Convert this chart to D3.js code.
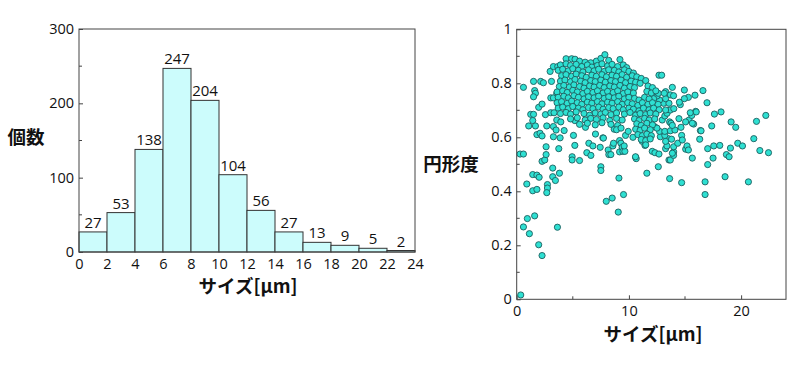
<!DOCTYPE html>
<html>
<head>
<meta charset="utf-8">
<script src="https://cdn.jsdelivr.net/npm/d3@7"></script>
<style>
  body { margin: 0; background: #fff; }
  svg { display: block; }
  .tick text { font-family: 'Open Sans', 'Noto Sans', sans-serif; font-size: 14.5px; fill: #111; }
  .title { font-family: 'Noto Sans CJK JP', sans-serif; font-weight: 700; font-size: 18.5px; fill: #111; }
</style>
</head>
<body>
<svg id="chart" width="800" height="392"></svg>
<script>
// histogram: bins of 2 um, counts printed above each bar
const binStarts = [0, 2, 4, 6, 8, 10, 12, 14, 16, 18, 20, 22];
const binWidth = 2;
const counts = [27, 53, 138, 247, 204, 104, 56, 27, 13, 9, 5, 2];
const histXTicks = [0, 2, 4, 6, 8, 10, 12, 14, 16, 18, 20, 22, 24];
const histYTicks = [0, 100, 200, 300];
const histYMinor = [50, 150, 250];

// scatter: size [um] vs circularity
const scatterXTicks = [0, 10, 20];
const scatterXMinor = [5, 15];
const scatterYTicks = [0, 0.2, 0.4, 0.6, 0.8, 1];
const scatterYMinor = [0.1, 0.3, 0.5, 0.7, 0.9];

const sparsePoints = [
  [0.36,0.016],[0.3,0.538],[0.6,0.538],[0.6,0.785],[0.9,0.427],[0.6,0.268],[0.95,0.299],[1.13,0.243],[1.07,0.642],
  [1.5,0.807],[1.6,0.773],[1.67,0.763],[1.5,0.75],[1.25,0.685],[1.5,0.685],[1.43,0.662],[1.67,0.642],[1.8,0.61],
  [1.43,0.462],[1.8,0.46],[2.0,0.452],[1.43,0.402],[1.8,0.407],[1.6,0.309],[1.96,0.202],[2.26,0.162],
  [2.14,0.807],[2.38,0.802],[1.96,0.711],[2.26,0.723],[2.08,0.615],[2.26,0.605],[2.26,0.511],[2.5,0.516],
  [2.62,0.565],[2.62,0.536],[2.68,0.642],[2.56,0.684],[2.74,0.425],[2.74,0.412],[2.68,0.395],
  [2.98,0.844],[3.1,0.807],[3.04,0.746],[3.27,0.746],[3.04,0.691],[3.33,0.691],[3.27,0.64],[3.27,0.602],
  [3.51,0.627],[3.57,0.664],[3.21,0.486],[3.21,0.454],[3.45,0.44],[3.63,0.267],[3.75,0.558],[3.81,0.467],
  [3.87,0.598],[3.93,0.657],[4.23,0.625],[3.27,0.862],[3.66,0.862],[3.57,0.763],
  [5.06,0.607],[4.94,0.528],[4.94,0.516],[5.18,0.57],[5.18,0.662],[5.6,0.514],[6.13,0.637],[6.25,0.543],
  [6.43,0.578],[6.61,0.533],[6.79,0.568],[7.02,0.612],[7.44,0.563],[7.5,0.491],[7.5,0.477],[7.68,0.598],
  [7.98,0.363],[8.15,0.553],[8.21,0.536],[8.51,0.375],[8.57,0.568],[8.63,0.578],[8.69,0.63],[9.05,0.323],
  [9.11,0.449],[9.17,0.546],[9.17,0.588],[9.29,0.578],[9.4,0.563],[9.46,0.548],[9.52,0.388],[9.64,0.548],
  [9.7,0.607],[9.94,0.622],[10.36,0.6],[10.6,0.526],[10.65,0.521],[11.0,0.627],[11.19,0.585],[11.43,0.57],
  [11.6,0.467],[12.08,0.548],[12.32,0.543],[12.62,0.491],[12.68,0.538],[12.68,0.83],[12.92,0.83],
  [13.27,0.558],[13.39,0.568],[13.51,0.595],[13.57,0.516],[13.63,0.447],[13.63,0.657],[13.99,0.546],
  [13.99,0.565],[14.35,0.578],[14.46,0.669],[14.58,0.721],[14.64,0.637],[14.7,0.432],[14.7,0.607],
  [14.94,0.775],[15.06,0.556],[15.18,0.568],[15.3,0.553],[15.3,0.748],[15.36,0.664],[15.6,0.681],
  [15.65,0.523],[15.77,0.649],[15.89,0.756],[15.95,0.696],[16.31,0.593],[16.37,0.625],[16.6,0.773],
  [16.79,0.435],[16.79,0.388],[16.96,0.728],[17.02,0.558],[17.02,0.499],[17.38,0.642],[17.5,0.523],
  [17.56,0.568],[17.62,0.686],[18.1,0.57],[18.21,0.694],[18.57,0.454],[18.69,0.536],[18.93,0.528],
  [19.05,0.56],[19.11,0.657],[19.52,0.637],[19.7,0.578],[20.12,0.568],[20.65,0.435],[21.13,0.595],
  [21.37,0.659],[21.67,0.551],[22.2,0.681],[22.44,0.543],
  [14.5,0.73],[13.87,0.785],[13.27,0.769],[13.69,0.757],[13.98,0.754],[14.94,0.743],[15.47,0.691],
  [16.0,0.694],[15.05,0.657],[15.65,0.652],[16.43,0.624],[14.76,0.59],[13.69,0.516],[13.98,0.533],
  [13.87,0.541],[13.27,0.585],[13.8,0.593],[12.8,0.602],[13.2,0.607],[12.73,0.622],[13.2,0.622],
  [13.69,0.624],[14.1,0.627],[13.75,0.652],[13.87,0.644],[12.3,0.639],[12.5,0.634],[12.97,0.664],
  [13.2,0.679],[13.4,0.689],[13.69,0.701],[13.27,0.701],[13.09,0.726],[13.57,0.726],[13.27,0.743],
  [12.73,0.738],[12.5,0.753],[12.2,0.743],[12.62,0.763],[13.15,0.763],
  [7.73,0.597],[8.39,0.536],[9.58,0.568],[10.59,0.528]
];

// the dense blob between 4 and 12 um, typed row by row
const clusterPoints = [
  [4.4,0.891],[4.9,0.891],[5.2,0.889],[5.6,0.882],[6.1,0.878],[6.6,0.876],[7.1,0.882],[7.5,0.892],[7.86,0.906],[8.2,0.885],[9.2,0.888],
  [3.9,0.868],[4.4,0.872],[4.8,0.866],[5.3,0.870],[5.8,0.862],[6.3,0.868],[6.7,0.860],[7.2,0.866],[7.6,0.872],[8.1,0.864],[8.5,0.870],[9.0,0.862],[9.5,0.868],[9.8,0.858],
  [3.7,0.848],[4.1,0.852],[4.6,0.846],[5.0,0.854],[5.5,0.848],[5.9,0.842],[6.4,0.850],[6.9,0.846],[7.3,0.852],[7.8,0.844],[8.2,0.850],[8.7,0.848],[9.1,0.842],[9.6,0.850],[10.0,0.844],[10.4,0.838],
  [4.0,0.828],[4.4,0.832],[4.9,0.826],[5.3,0.834],[5.8,0.828],[6.2,0.822],[6.7,0.830],[7.1,0.826],[7.6,0.832],[8.0,0.824],[8.5,0.830],[8.9,0.826],[9.4,0.832],[9.8,0.822],[10.3,0.828],[10.7,0.824],[11.1,0.818],
  [3.9,0.808],[4.3,0.812],[4.8,0.806],[5.2,0.814],[5.7,0.808],[6.1,0.802],[6.6,0.810],[7.0,0.806],[7.5,0.812],[7.9,0.804],[8.4,0.810],[8.8,0.806],[9.3,0.812],[9.7,0.802],[10.2,0.808],[10.6,0.804],[11.0,0.800],[11.5,0.810],
  [3.8,0.788],[4.2,0.792],[4.7,0.786],[5.1,0.794],[5.6,0.788],[6.0,0.782],[6.5,0.790],[6.9,0.786],[7.4,0.792],[7.8,0.784],[8.3,0.790],[8.7,0.786],[9.2,0.792],[9.6,0.782],[10.1,0.788],[10.5,0.784],[11.7,0.790],[12.1,0.784],
  [3.6,0.768],[4.1,0.772],[4.5,0.766],[5.0,0.774],[5.4,0.768],[5.9,0.762],[6.3,0.770],[6.8,0.766],[7.2,0.772],[7.7,0.764],[8.1,0.770],[8.6,0.766],[9.0,0.772],[9.5,0.762],[9.9,0.768],[10.4,0.764],[11.6,0.770],[12.0,0.764],[12.4,0.772],
  [3.7,0.748],[4.2,0.752],[4.6,0.746],[5.1,0.754],[5.5,0.748],[6.0,0.742],[6.4,0.750],[6.9,0.746],[7.3,0.752],[7.8,0.744],[8.2,0.750],[8.7,0.746],[9.1,0.752],[9.6,0.742],[10.0,0.748],[10.5,0.744],[10.9,0.738],[11.4,0.748],[11.8,0.742],
  [3.6,0.728],[4.0,0.732],[4.5,0.726],[4.9,0.734],[5.4,0.728],[5.8,0.722],[6.3,0.730],[6.7,0.726],[7.2,0.732],[7.6,0.724],[8.1,0.730],[8.5,0.726],[9.0,0.732],[9.4,0.722],[9.9,0.728],[10.3,0.724],[10.8,0.718],[11.2,0.728],[11.7,0.722],[12.1,0.728],[12.6,0.722],
  [3.7,0.708],[4.1,0.712],[4.6,0.706],[5.0,0.714],[5.5,0.708],[5.9,0.702],[6.4,0.710],[6.8,0.706],[7.3,0.712],[7.7,0.704],[8.2,0.710],[8.6,0.706],[9.1,0.712],[9.5,0.702],[10.0,0.708],[10.4,0.704],[10.9,0.698],[11.3,0.708],[11.8,0.702],[12.2,0.708],[12.7,0.702],[14.0,0.706],
  [3.9,0.688],[4.4,0.692],[4.8,0.686],[5.3,0.694],[6.0,0.688],[6.5,0.682],[7.0,0.690],[7.5,0.686],[7.9,0.692],[8.4,0.684],[8.9,0.690],[9.6,0.686],[10.1,0.692],[10.6,0.682],[11.0,0.688],[11.5,0.684],[11.9,0.690],[12.4,0.686],
  [4.8,0.668],[5.4,0.672],[6.1,0.664],[6.6,0.670],[7.1,0.666],[7.7,0.672],[8.3,0.662],[8.9,0.670],[9.4,0.664],[10.5,0.668],[10.9,0.662],[11.4,0.670],[11.8,0.664],[12.3,0.668],
  [5.6,0.648],[6.3,0.652],[7.0,0.646],[7.6,0.654],[8.4,0.648],[9.0,0.644],[10.7,0.650],[11.1,0.644],[11.6,0.652],[12.1,0.646],
  [8.9,0.628],[9.3,0.634],[10.6,0.630],[11.0,0.626],[11.4,0.634],[11.9,0.628],
  [10.8,0.610],[11.2,0.606],[11.6,0.612],[12.0,0.606],
  [11.1,0.592],[11.5,0.588],[11.9,0.594],
  [11.5,0.572]
];

const svg = d3.select('#chart');

// ---------- histogram ----------
const hx = d3.scaleLinear().domain([0, 24]).range([79, 415]);
const hy = d3.scaleLinear().domain([0, 300]).range([252, 29]);

const hist = svg.append('g');

hist.selectAll('rect.bar')
  .data(counts)
  .enter().append('rect')
  .attr('class', 'bar')
  .attr('x', (d, i) => hx(binStarts[i]))
  .attr('width', (d, i) => hx(binStarts[i] + binWidth) - hx(binStarts[i]))
  .attr('y', d => hy(d))
  .attr('height', d => hy(0) - hy(d))
  .attr('fill', '#ccfcfc')
  .attr('stroke', '#333')
  .attr('stroke-width', 1);

hist.selectAll('text.count')
  .data(counts)
  .enter().append('text')
  .attr('class', 'count')
  .attr('x', (d, i) => hx(binStarts[i] + binWidth / 2))
  .attr('y', d => hy(d) - 4)
  .attr('text-anchor', 'middle')
  .style('font-family', "'Open Sans', 'Noto Sans', sans-serif")
  .style('font-size', '15px')
  .attr('fill', '#111')
  .text(d => d);

hist.append('rect')
  .attr('x', hx(0)).attr('y', hy(300))
  .attr('width', hx(24) - hx(0)).attr('height', hy(0) - hy(300))
  .attr('fill', 'none').attr('stroke', '#444').attr('stroke-width', 1);

const hxAxis = hist.append('g')
  .attr('transform', 'translate(0,' + hy(0) + ')')
  .call(d3.axisBottom(hx).tickValues(histXTicks).tickSize(0).tickPadding(7));
hxAxis.select('.domain').remove();

const hyAxis = hist.append('g')
  .attr('transform', 'translate(' + hx(0) + ',0)')
  .call(d3.axisLeft(hy).tickValues(histYTicks).tickSize(-4).tickPadding(5));
hyAxis.select('.domain').remove();
hyAxis.selectAll('line').attr('stroke', '#444');

hist.selectAll('line.minor')
  .data(histYMinor)
  .enter().append('line')
  .attr('class', 'minor')
  .attr('x1', hx(0)).attr('x2', hx(0) + 3)
  .attr('y1', d => hy(d)).attr('y2', d => hy(d))
  .attr('stroke', '#444');

hist.append('text').attr('class', 'title')
  .attr('x', 248).attr('y', 287).attr('dy', '0.35em')
  .attr('text-anchor', 'middle').text('サイズ[μm]');
hist.append('text').attr('class', 'title')
  .attr('x', 26).attr('y', 138).attr('dy', '0.35em')
  .attr('text-anchor', 'middle').text('個数');

// ---------- scatter ----------
const sx = d3.scaleLinear().domain([0, 24]).range([516.7, 786]);
const sy = d3.scaleLinear().domain([0, 1]).range([299.3, 29.3]);

const sc = svg.append('g');

sc.append('rect')
  .attr('x', sx(0)).attr('y', sy(1))
  .attr('width', sx(24) - sx(0)).attr('height', sy(0) - sy(1))
  .attr('fill', 'none').attr('stroke', '#444').attr('stroke-width', 1);

const sxAxis = sc.append('g')
  .attr('transform', 'translate(0,' + sy(0) + ')')
  .call(d3.axisBottom(sx).tickValues(scatterXTicks).tickSize(-4).tickPadding(6));
sxAxis.select('.domain').remove();
sxAxis.selectAll('line').attr('stroke', '#444');

const syAxis = sc.append('g')
  .attr('transform', 'translate(' + sx(0) + ',0)')
  .call(d3.axisLeft(sy).tickValues(scatterYTicks).tickSize(-4).tickPadding(5)
    .tickFormat(d => d === 0 || d === 1 ? d3.format('d')(d) : d3.format('.1f')(d)));
syAxis.select('.domain').remove();
syAxis.selectAll('line').attr('stroke', '#444');

sc.selectAll('line.yminor')
  .data(scatterYMinor)
  .enter().append('line')
  .attr('class', 'yminor')
  .attr('x1', sx(0)).attr('x2', sx(0) + 3)
  .attr('y1', d => sy(d)).attr('y2', d => sy(d))
  .attr('stroke', '#444');

sc.selectAll('line.xminor')
  .data(scatterXMinor)
  .enter().append('line')
  .attr('class', 'xminor')
  .attr('x1', d => sx(d)).attr('x2', d => sx(d))
  .attr('y1', sy(0)).attr('y2', sy(0) - 3)
  .attr('stroke', '#444');

sc.selectAll('circle')
  .data(sparsePoints.concat(clusterPoints))
  .enter().append('circle')
  .attr('cx', d => sx(d[0]))
  .attr('cy', d => sy(d[1]))
  .attr('r', 3.1)
  .attr('fill', '#2ee0d2')
  .attr('stroke', '#1d5f5f')
  .attr('stroke-width', 0.9);

sc.append('text').attr('class', 'title')
  .attr('x', 653).attr('y', 335).attr('dy', '0.35em')
  .attr('text-anchor', 'middle').text('サイズ[μm]');
sc.append('text').attr('class', 'title')
  .attr('x', 451).attr('y', 165).attr('dy', '0.35em')
  .attr('text-anchor', 'middle').text('円形度');
</script>
</body>
</html>
